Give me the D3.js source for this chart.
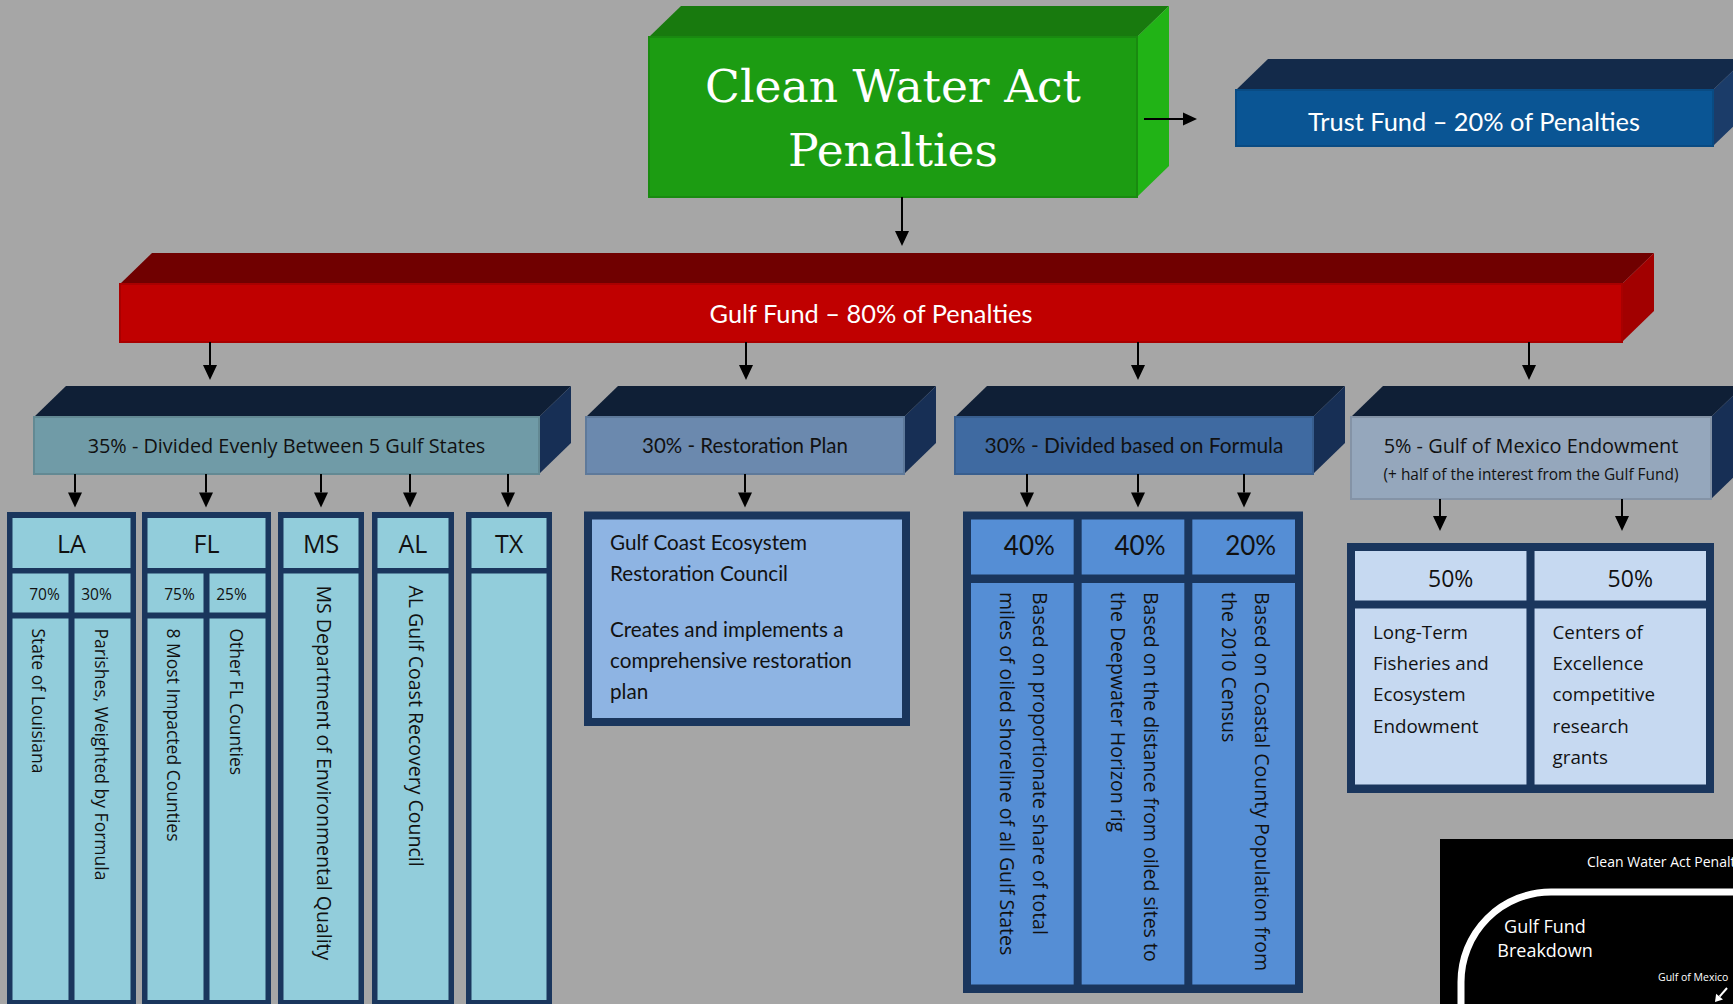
<!DOCTYPE html>
<html>
<head>
<meta charset="utf-8">
<script src="https://cdn.jsdelivr.net/npm/d3@7"></script>
<style>
  html, body { margin: 0; padding: 0; background: #a6a6a6; overflow: hidden; }
  svg { display: block; }
</style>
</head>
<body>
<script>
(function () {
    // ---- chart content ----
    var titleLines = ["Clean Water Act", "Penalties"];
    var trustLabel = "Trust Fund \u2013 20% of Penalties";
    var gulfLabel = "Gulf Fund \u2013 80% of Penalties";
    var allocShares = ["35%", "30%", "30%", "5%"];
    var allocNames = ["Divided Evenly Between 5 Gulf States", "Restoration Plan", "Divided based on Formula", "Gulf of Mexico Endowment"];
    var allocNotes = ["", "", "", "(+ half of the interest from the Gulf Fund)"];
    var states = ["LA", "FL", "MS", "AL", "TX"];
    var stateSplits = [["70%", "30%"], ["75%", "25%"], [], [], []];
    var stateRecipients = [
        ["State of Louisiana", "Parishes, Weighted by Formula"],
        ["8 Most Impacted Counties", "Other FL Counties"],
        ["MS Department of Environmental Quality"],
        ["AL Gulf Coast Recovery Council"],
        []
    ];
    var restorationParas = [
        ["Gulf Coast Ecosystem", "Restoration Council"],
        ["Creates and implements a", "comprehensive restoration", "plan"]
    ];
    var formulaShares = ["40%", "40%", "20%"];
    var formulaBasis = [
        ["Based on proportionate share of total", "miles of oiled shoreline of all Gulf States"],
        ["Based on the distance from oiled sites to", "the Deepwater Horizon rig"],
        ["Based on Coastal County Population from", "the 2010 Census"]
    ];
    var endowShares = ["50%", "50%"];
    var endowUses = [
        ["Long-Term", "Fisheries and", "Ecosystem", "Endowment"],
        ["Centers of", "Excellence", "competitive", "research", "grants"]
    ];
    var insetTitle = "Clean Water Act Penalties";
    var insetLabel = ["Gulf Fund", "Breakdown"];
    var insetNote = "Gulf of Mexico";

    // ---- layout ----
    var width = 1733, height = 1004;
    var depth = {x: 32, y: 31};
    var navy = "#1a365d";
    var sans = "'Open Sans', sans-serif",
        calib = "Lato, sans-serif";

    var svg = d3.select("body").append("svg")
        .attr("width", width)
        .attr("height", height);

    svg.append("rect")
        .attr("width", width)
        .attr("height", height)
        .attr("fill", "#a6a6a6");

    function drawBox(g, b) {
        var dx = depth.x, dy = depth.y;
        g.append("path")
            .attr("d", "M" + b.x + "," + b.y + "L" + (b.x + dx) + "," + (b.y - dy) +
                "L" + (b.x + b.w + dx) + "," + (b.y - dy) + "L" + (b.x + b.w) + "," + b.y + "Z")
            .attr("fill", b.top);
        g.append("path")
            .attr("d", "M" + (b.x + b.w) + "," + b.y + "L" + (b.x + b.w + dx) + "," + (b.y - dy) +
                "L" + (b.x + b.w + dx) + "," + (b.y + b.h - dy) + "L" + (b.x + b.w) + "," + (b.y + b.h) + "Z")
            .attr("fill", b.side);
        g.append("rect")
            .attr("x", b.x).attr("y", b.y)
            .attr("width", b.w).attr("height", b.h)
            .attr("fill", b.front)
            .attr("stroke", d3.color(b.front).darker(0.35))
            .attr("stroke-width", 2);
    }

    function arrow(g, x1, y1, x2, y2, color, hl, hw) {
        color = color || "#000";
        hl = hl || 15; hw = hw || 7;
        var ang = Math.atan2(y2 - y1, x2 - x1);
        var bx = x2 - hl * Math.cos(ang), by = y2 - hl * Math.sin(ang);
        var px = -Math.sin(ang) * hw, py = Math.cos(ang) * hw;
        g.append("line")
            .attr("x1", x1).attr("y1", y1).attr("x2", bx).attr("y2", by)
            .attr("stroke", color).attr("stroke-width", 2);
        g.append("path")
            .attr("d", "M" + x2 + "," + y2 + "L" + (bx + px) + "," + (by + py) +
                "L" + (bx - px) + "," + (by - py) + "Z")
            .attr("fill", color);
    }

    // scale font so the text spans the given width
    function fit(t, target) {
        var len = t.node().getComputedTextLength();
        var fs = parseFloat(t.attr("font-size"));
        var nfs = fs * target / len;
        t.attr("font-size", nfs);
        return nfs;
    }

    function label(g, x, y, txt, font, size, color, anchor) {
        return g.append("text")
            .attr("x", x).attr("y", y)
            .attr("text-anchor", anchor || "middle")
            .attr("font-family", font)
            .attr("font-size", size)
            .attr("fill", color || "#111")
            .text(txt);
    }

    var g = svg.append("g");

    // ---- top: Clean Water Act Penalties ----
    var topBox = {x: 649, y: 37, w: 488, h: 160, front: "#1c9c12", top: "#187a0e", side: "#21b316"};
    drawBox(g, topBox);
    var t1 = label(g, 893, 102, titleLines[0], "'DejaVu Serif', serif", 48, "#fff");
    var titleSize = fit(t1, 376);
    label(g, 893, 166, titleLines[1], "'DejaVu Serif', serif", titleSize, "#fff");

    // trust fund
    var trustBox = {x: 1236, y: 90, w: 477, h: 56, front: "#0a5594", top: "#132a4a", side: "#1b3c69"};
    drawBox(g, trustBox);
    fit(label(g, 1474, 131, trustLabel, calib, 27, "#fff"), 332);
    arrow(g, 1144, 119, 1197, 119, "#000", 14, 6.5);

    // gulf fund
    var gulfBox = {x: 120, y: 284, w: 1502, h: 58, front: "#c00000", top: "#700000", side: "#a20000"};
    arrow(g, 902, 197, 902, 246);
    drawBox(g, gulfBox);
    fit(label(g, 871, 323, gulfLabel, calib, 26, "#fff"), 323);

    // ---- allocation row ----
    var allocBoxes = [
        {x: 34, w: 505, h: 57, front: "#709ba7", fit: 398, font: sans},
        {x: 586, w: 318, h: 57, front: "#6b89ae", fit: 206, font: calib},
        {x: 955, w: 358, h: 57, front: "#3f6aa1", fit: 299, font: calib},
        {x: 1351, w: 360, h: 82, front: "#95a7bc", fit: 295, font: sans}
    ];
    var gulfArrowX = [210, 746, 1138, 1529];
    allocBoxes.forEach(function (b, i) {
        b.y = 417; b.top = "#0f1f36"; b.side = "#172f55";
        arrow(g, gulfArrowX[i], 342, gulfArrowX[i], 380);
        drawBox(g, b);
        var cx = b.x + b.w / 2;
        fit(label(g, cx, 453, allocShares[i] + " - " + allocNames[i], b.font, 20), b.fit);
        if (allocNotes[i]) {
            fit(label(g, cx, 480, allocNotes[i], b.font, 15), 295);
        }
    });

    // ---- states ----
    var stateCols = [[7, 136], [142, 271], [278, 364], [372, 454], [466, 552]];
    var stateArrowX = [75, 206, 321, 410, 508];
    var colTop = 512, colBottom = 1010, pad = 5.5;
    var headBottom = 568, pctTop = 573.5, pctBottom = 612.5, bodyTop = 618.5;
    var cyan = "#92cddb";

    states.forEach(function (s, i) {
        var x0 = stateCols[i][0], x1 = stateCols[i][1];
        arrow(g, stateArrowX[i], 474, stateArrowX[i], 507.5);
        g.append("rect").attr("x", x0).attr("y", colTop)
            .attr("width", x1 - x0).attr("height", colBottom - colTop).attr("fill", navy);
        g.append("rect").attr("x", x0 + pad).attr("y", colTop + 6)
            .attr("width", x1 - x0 - 2 * pad).attr("height", headBottom - colTop - 6).attr("fill", cyan);
        label(g, (x0 + x1) / 2, 553, s, sans, 25);

        var recips = stateRecipients[i];
        if (stateSplits[i].length) {
            var sub = d3.scaleBand()
                .domain(d3.range(stateSplits[i].length))
                .range([x0 + pad, x1 - pad])
                .paddingInner(0.097);
            stateSplits[i].forEach(function (p, j) {
                var sx = sub(j), bw = sub.bandwidth();
                g.append("rect").attr("x", sx).attr("y", pctTop)
                    .attr("width", bw).attr("height", pctBottom - pctTop).attr("fill", cyan);
                g.append("rect").attr("x", sx).attr("y", bodyTop)
                    .attr("width", bw).attr("height", colBottom - 10 - bodyTop).attr("fill", cyan);
                label(g, sx + bw / 2 + (j === 0 ? 4 : -6), 600, p, sans, 15.5);
                g.append("text")
                    .attr("transform", "translate(" + (sx + bw / 2 - 1) + "," + (bodyTop + 10) + ") rotate(90)")
                    .attr("dominant-baseline", "central")
                    .attr("font-family", sans).attr("font-size", 17.5).attr("fill", "#111")
                    .text(recips[j]);
            });
        } else {
            g.append("rect").attr("x", x0 + pad).attr("y", pctTop)
                .attr("width", x1 - x0 - 2 * pad).attr("height", colBottom - 10 - pctTop).attr("fill", cyan);
            if (recips.length) {
                g.append("text")
                    .attr("transform", "translate(" + ((x0 + x1) / 2 + 3) + "," + (pctTop + 12) + ") rotate(90)")
                    .attr("dominant-baseline", "central")
                    .attr("font-family", sans).attr("font-size", 19.5).attr("fill", "#111")
                    .text(recips[0]);
            }
        }
    });

    // ---- restoration plan ----
    arrow(g, 745, 474, 745, 507.5);
    var rest = {x0: 584, x1: 910, y0: 511.5, y1: 726};
    g.append("rect").attr("x", rest.x0).attr("y", rest.y0)
        .attr("width", rest.x1 - rest.x0).attr("height", rest.y1 - rest.y0).attr("fill", navy);
    g.append("rect").attr("x", rest.x0 + 8).attr("y", rest.y0 + 8)
        .attr("width", rest.x1 - rest.x0 - 16).attr("height", rest.y1 - rest.y0 - 16).attr("fill", "#8eb4e3");
    var restSize = fit(label(g, 610, 550, restorationParas[0][0], calib, 20, "#111", "start"), 197);
    var ry = 550;
    restorationParas.forEach(function (para, pi) {
        para.forEach(function (line, li) {
            if (pi === 0 && li === 0) { ry += 31; return; }
            label(g, 610, ry, line, calib, restSize, "#111", "start");
            ry += 31;
        });
        ry += 25;
    });

    // ---- formula ----
    var formArrowX = [1027, 1138, 1244];
    formArrowX.forEach(function (x) { arrow(g, x, 474, x, 507.5); });
    var form = {x0: 963, x1: 1303, y0: 511.5, y1: 993};
    g.append("rect").attr("x", form.x0).attr("y", form.y0)
        .attr("width", form.x1 - form.x0).attr("height", form.y1 - form.y0).attr("fill", navy);
    var fx = d3.scaleBand()
        .domain(d3.range(formulaShares.length))
        .range([form.x0 + 8, form.x1 - 8])
        .paddingInner(0.0723);
    formulaShares.forEach(function (p, i) {
        var x = fx(i), bw = fx.bandwidth(), cx = x + bw / 2;
        g.append("rect").attr("x", x).attr("y", 519.5)
            .attr("width", bw).attr("height", 574.5 - 519.5).attr("fill", "#558ed5");
        g.append("rect").attr("x", x).attr("y", 583)
            .attr("width", bw).attr("height", 984.5 - 583).attr("fill", "#558ed5");
        label(g, cx + 7, 555, p, calib, 26);
        g.append("text")
            .attr("transform", "translate(" + (cx + 2) + ",592) rotate(90)")
            .attr("font-family", sans).attr("font-size", 19.5).attr("fill", "#111")
            .selectAll("tspan")
            .data(formulaBasis[i])
            .enter()
            .append("tspan")
            .attr("x", 0)
            .attr("y", function (d, j) { return -16.5 + 33 * j; })
            .attr("dominant-baseline", "central")
            .text(function (d) { return d; });
    });

    // ---- endowment ----
    var endArrowX = [1440, 1622];
    endArrowX.forEach(function (x) { arrow(g, x, 499, x, 531); });
    var endo = {x0: 1347, x1: 1714, y0: 543, y1: 793};
    g.append("rect").attr("x", endo.x0).attr("y", endo.y0)
        .attr("width", endo.x1 - endo.x0).attr("height", endo.y1 - endo.y0).attr("fill", navy);
    var ex = d3.scaleBand()
        .domain(d3.range(endowShares.length))
        .range([endo.x0 + 8, endo.x1 - 8])
        .paddingInner(0.045);
    endowShares.forEach(function (p, i) {
        var x = ex(i), bw = ex.bandwidth();
        g.append("rect").attr("x", x).attr("y", 551)
            .attr("width", bw).attr("height", 600.5 - 551).attr("fill", "#c6d9f1");
        g.append("rect").attr("x", x).attr("y", 608.5)
            .attr("width", bw).attr("height", 784.5 - 608.5).attr("fill", "#c6d9f1");
        label(g, x + bw / 2 + 10, 586.5, p, sans, 23);
        endowUses[i].forEach(function (line, j) {
            label(g, x + 18, 639 + 31.2 * j, line, sans, 18.8, "#111", "start");
        });
    });

    // ---- inset (cropped at the page edge, as in the source) ----
    var inset = svg.append("g");
    inset.append("rect").attr("x", 1440).attr("y", 839)
        .attr("width", 300).attr("height", 200).attr("fill", "#000");
    label(inset, 1587, 867, insetTitle, sans, 14, "#fff", "start");
    inset.append("rect").attr("x", 1461).attr("y", 892)
        .attr("width", 400).attr("height", 300).attr("rx", 90).attr("ry", 90)
        .attr("fill", "none").attr("stroke", "#fff").attr("stroke-width", 7);
    insetLabel.forEach(function (l, i) {
        label(inset, 1545, 933 + 24 * i, l, sans, 18, "#fff");
    });
    label(inset, 1658, 981, insetNote, sans, 10.5, "#fff", "start");
    arrow(inset, 1727, 988, 1715, 1002, "#fff", 7, 4.5);
})();
</script>
</body>
</html>
